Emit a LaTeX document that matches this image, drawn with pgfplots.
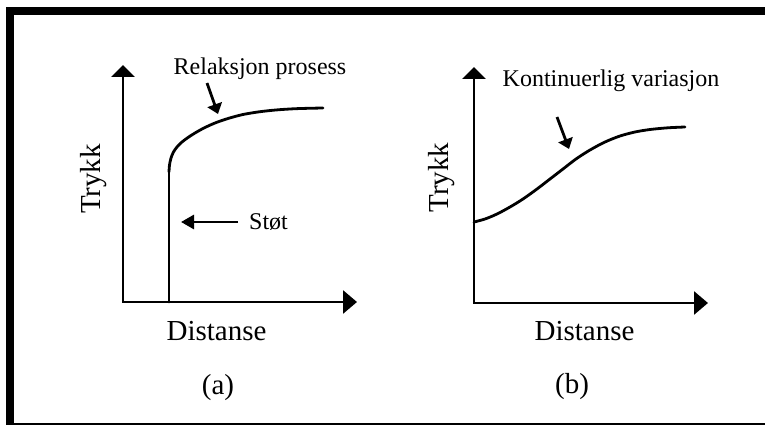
\documentclass[border=0pt]{standalone}
\usepackage{fontspec}
\setmainfont{Liberation Serif}
\usepackage{pgfplots}
\pgfplotsset{compat=1.18}
\usetikzlibrary{arrows.meta}

\pgfplotsset{sketch/.style={
  scale only axis, anchor=south west,
  axis lines=left, xtick=\empty, ytick=\empty,
  axis line style={line width=2.8pt, line cap=rect},
  x axis line style={-{Triangle[length=14pt,width=23pt]}},
  y axis line style={-{Triangle[length=12pt,width=23pt]}},
  clip=false,
}}
\newcommand{\smalltxt}{\fontsize{24}{28}\selectfont}
\newcommand{\bigtxt}{\fontsize{29}{34}\selectfont}

\begin{document}
\begin{tikzpicture}
\begin{scope}[x=1pt, y=-1pt]
\useasboundingbox (0,0) rectangle (765,425);
% frame (cropped at the right)
\fill[black] (6,7) rectangle (765,15);
\fill[black] (6,7) rectangle (14,425);
\fill[black] (6,422.5) rectangle (765,425);
\end{scope}

% (a) shock
\begin{axis}[sketch, at={(123pt,-302pt)}, width=234pt, height=237pt,
  xmin=0, xmax=234, ymin=0, ymax=237]
\addplot[line width=2.8pt, line cap=round] coordinates {(46,0)(46,130)};
\addplot[line width=2.8pt, smooth, line cap=round] coordinates {
  (46,130)(46.5,137)(48,144)(50.5,150)(54,155)(59,160)(65,164.5)(72,169)
  (81,174)(92,179)(105,183.5)(120,187.5)(137,190.3)(155,192.2)(175,193.4)(200,194)
};
\draw[line width=2.8pt, -{Triangle[length=13pt,width=14pt]}]
  (axis cs:115,80) -- (axis cs:58,80);
\draw[line width=2.8pt, -{Triangle[length=10pt,width=15pt]}]
  (axis cs:84,219) -- (axis cs:95,188);
\end{axis}

% (b) continuous
\begin{axis}[sketch, at={(474pt,-303pt)}, width=234pt, height=236pt,
  xmin=0, xmax=234, ymin=0, ymax=236]
\addplot[line width=2.8pt, smooth, line cap=round] coordinates {
  (0,81)(11,84)(23,89)(36,96)(49,104)(63,114)(76,124)(89,134)(102,144)
  (116,153)(131,161)(146,167)(161,171)(176,173.5)(194,175.2)(211,176)
};
\draw[line width=2.8pt, -{Triangle[length=10pt,width=15pt]}]
  (axis cs:83,186) -- (axis cs:95,154);
\end{axis}

% texts
\begin{scope}[x=1pt, y=-1pt]
\node[anchor=base, inner sep=0pt] at (260,75) {\smalltxt Relaksjon prosess};
\node[anchor=base west, inner sep=0pt] at (249,229) {\smalltxt Støt};
\node[anchor=base, inner sep=0pt, rotate=90] at (100,179) {\bigtxt Trykk};
\node[anchor=base, inner sep=0pt] at (216.5,340) {\bigtxt Distanse};
\node[inner sep=0pt] at (218,387.5) {\bigtxt (a)};

\node[anchor=base, inner sep=0pt] at (611,87) {\smalltxt Kontinuerlig variasjon};
\node[anchor=base, inner sep=0pt, rotate=90] at (448,177.5) {\bigtxt Trykk};
\node[anchor=base, inner sep=0pt] at (584.5,340) {\bigtxt Distanse};
\node[inner sep=0pt] at (572,387) {\bigtxt (b)};
\end{scope}
\end{tikzpicture}
\end{document}
